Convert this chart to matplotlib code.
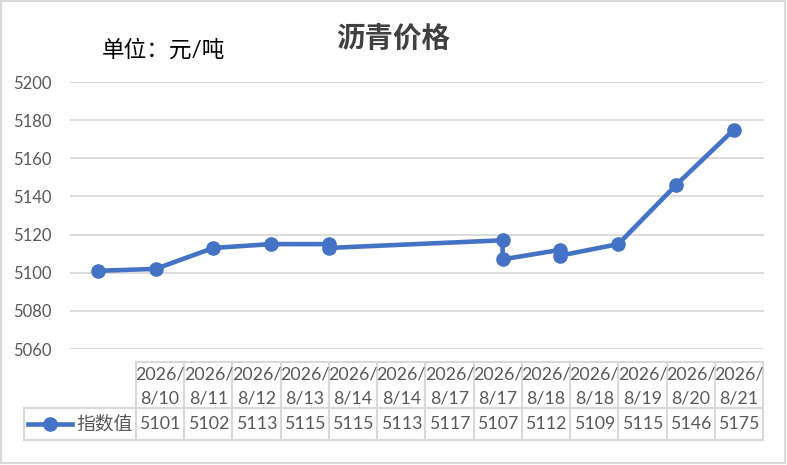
import matplotlib
matplotlib.use('Agg')
import matplotlib.pyplot as plt
import matplotlib.dates as mdates
from matplotlib.lines import Line2D
from matplotlib.patches import Rectangle
import pandas as pd

plt.rcParams['font.family'] = ['Lato', 'Noto Sans CJK SC', 'DejaVu Sans']

# data
title = '沥青价格'
unit_label = '单位：元/吨'
series_name = '指数值'
dates = ['2026/8/10', '2026/8/11', '2026/8/12', '2026/8/13', '2026/8/14', '2026/8/14',
         '2026/8/17', '2026/8/17', '2026/8/18', '2026/8/18', '2026/8/19', '2026/8/20',
         '2026/8/21']
values = [5101, 5102, 5113, 5115, 5115, 5113, 5117, 5107, 5112, 5109, 5115, 5146, 5175]
y_ticks = [5060, 5080, 5100, 5120, 5140, 5160, 5180, 5200]

W, H = 787, 465
blue = '#4472C4'
grid = '#d9d9d9'


def fx(px):
    return px / W


def fy(py):
    return 1 - py / H


fig = plt.figure(figsize=(W / 100, H / 100), dpi=100)
fig.patch.set_facecolor('white')

# outer frame
fig.add_artist(Rectangle((fx(1), fy(463)), fx(785) - fx(1), fy(1) - fy(463),
                         transform=fig.transFigure, fill=False, edgecolor=grid, lw=1.5))

ax = fig.add_axes([fx(70), fy(349), fx(764) - fx(70), fy(82) - fy(349)])
x = mdates.date2num(pd.to_datetime(dates, format='%Y/%m/%d'))
ax.plot(x, values, color=blue, lw=3.3, marker='o', ms=9.5,
        solid_joinstyle='round', clip_on=False, zorder=3)
ax.set_xlim(x.min() - 0.48, x.max() + 0.52)
ax.set_ylim(5060, 5200)
ax.set_yticks(y_ticks)
ax.set_xticks([])
ax.yaxis.grid(True, color=grid, lw=1.3)
ax.set_axisbelow(True)
for s in ax.spines.values():
    s.set_visible(False)
ax.tick_params(axis='y', length=0, pad=13, labelsize=12, labelcolor='#595959')

fig.text(fx(393), fy(38), title, ha='center', va='center', fontsize=20.5,
         fontweight='bold', color='#404040')
fig.text(fx(102), fy(50), unit_label, ha='left', va='center', fontsize=16.3, color='black')

# data table under the chart
left, c0, c1 = 24, 136, 763
top, mid, bot = 362, 408, 440
cw = (c1 - c0) / len(dates)
fs = 12.8
line_kw = dict(transform=fig.transFigure, color=grid, lw=1.5)
fig.add_artist(Line2D([fx(c0), fx(c1)], [fy(top), fy(top)], **line_kw))
fig.add_artist(Line2D([fx(left), fx(c1)], [fy(mid), fy(mid)], **line_kw))
fig.add_artist(Line2D([fx(left), fx(c1)], [fy(bot), fy(bot)], **line_kw))
fig.add_artist(Line2D([fx(left), fx(left)], [fy(mid), fy(bot)], **line_kw))
for i in range(len(dates) + 1):
    xx = c0 + i * cw
    fig.add_artist(Line2D([fx(xx), fx(xx)], [fy(top), fy(bot)], **line_kw))

for i, (d, v) in enumerate(zip(dates, values)):
    cx = c0 + (i + 0.5) * cw
    yr, md = d.split('/', 1)
    fig.text(fx(cx), fy(375), yr + '/', ha='center', va='center', fontsize=fs, color='#595959')
    fig.text(fx(cx), fy(398), md, ha='center', va='center', fontsize=fs, color='#595959')
    fig.text(fx(cx), fy(424), str(v), ha='center', va='center', fontsize=fs, color='#595959')

# legend key
fig.add_artist(Line2D([fx(28), fx(72)], [fy(424), fy(424)], transform=fig.transFigure,
                      color=blue, lw=3.3))
fig.add_artist(Line2D([fx(50)], [fy(424)], transform=fig.transFigure, color=blue,
                      marker='o', ms=9.5))
fig.text(fx(76), fy(424), series_name, ha='left', va='center', fontsize=13.5, color='#595959')

fig.savefig('out.png', dpi=100, facecolor='white')
